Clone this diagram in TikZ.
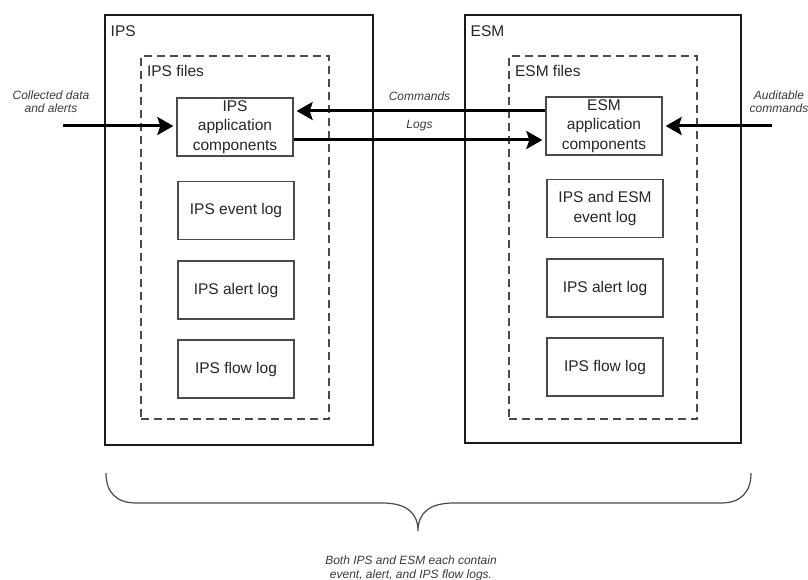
\documentclass[tikz,border=0pt]{standalone}
\usepackage{fontspec}
\setmainfont{Liberation Sans}
\usetikzlibrary{arrows.meta}
\definecolor{ink}{HTML}{262626}
\definecolor{note}{HTML}{3A3A3A}
\definecolor{frame}{HTML}{1A1A1A}
\definecolor{thin}{HTML}{4A4A4A}
\begin{document}
\begin{tikzpicture}[x=1pt,y=-1pt,
  sized/.style 2 args={minimum width=#1pt, minimum height=#2pt, inner sep=0pt},
  systembox/.style={draw=frame, line width=2pt},
  filesbox/.style={draw=thin, line width=1.2pt, dash pattern=on 8pt off 5pt},
  partbox/.style={draw=thin, line width=1.3pt, sized={116}{58}, align=center,
    text=ink, font=\fontsize{15.5}{19.5}\selectfont},
  heading/.style={anchor=west, inner sep=0pt, text=ink, font=\fontsize{15.5}{19}\selectfont},
  note/.style={align=center, inner sep=0pt, text=note, font=\fontsize{12}{13.5}\selectfont\itshape},
  bigarrow/.style={draw=black, line width=3pt,
    -{Stealth[length=16pt, width=18pt, inset=3pt]}, shorten >=3pt},
  bracepath/.style={draw=thin, line width=1.2pt}]
\useasboundingbox (0,0) rectangle (808,580);

% system frames
\node[systembox, sized={268}{430}] (ips) at (239,230) {};
\node[systembox, sized={276}{428}] (esm) at (603,229) {};
\node[heading] (ipstitle) at ([xshift=6.5pt, yshift=-17pt]ips.north west) {IPS};
\node[heading] (esmtitle) at ([xshift=6.5pt, yshift=-17pt]esm.north west) {ESM};

% file areas
\node[filesbox, sized={188}{363}] (ipsfiles) at (235,237.5) {};
\node[filesbox, sized={188}{363}] (esmfiles) at (603,237.5) {};
\node[heading] (ipsfilestitle) at ([xshift=6.5pt, yshift=-16pt]ipsfiles.north west) {IPS files};
\node[heading] (esmfilestitle) at ([xshift=6.5pt, yshift=-16pt]esmfiles.north west) {ESM files};

% IPS contents
\node[partbox] (ipsapp)   at (235,127)   {IPS\\application\\components};
\node[partbox] (ipsevent) at (236,210.5) {IPS event log};
\node[partbox] (ipsalert) at (236,290)   {IPS alert log};
\node[partbox] (ipsflow)  at (236,369)   {IPS flow log};

% ESM contents
\node[partbox] (esmapp)   at (604,126)   {ESM\\application\\components};
\node[partbox] (esmevent) at (605,208.5) {IPS and ESM\\event log};
\node[partbox] (esmalert) at (605,288)   {IPS alert log};
\node[partbox] (esmflow)  at (605,367)   {IPS flow log};

% connectors
\coordinate (inL) at (63,126);
\coordinate (inR) at (772,126);
\coordinate (cmdR) at (esmapp.west |- 0,111);
\coordinate (logL) at (ipsapp.east |- 0,140);

\draw[bigarrow] (inL) -- (inL -| ipsapp.west);
\draw[bigarrow] (inR) -- (inR -| esmapp.east);
\draw[bigarrow] (cmdR) -- (cmdR -| ipsapp.east)
  node[note, midway, yshift=15pt] (cmdlabel) {Commands};
\draw[bigarrow] (logL) -- (logL -| esmapp.west)
  node[note, midway, yshift=14pt] (loglabel) {Logs};

\node[note] (collected) at (51,101.5) {Collected data\\and alerts};
\node[note] (auditable) at (779,101.5) {Auditable\\commands};

% brace under both systems
\draw[bracepath] (106,473) .. controls (106,492) and (116,503) .. (136,503)
  -- (382,503) .. controls (408,503) and (418,514) .. (418,531)
  .. controls (418,514) and (428,503) .. (454,503)
  -- (721,503) .. controls (741,503) and (751,492) .. (751,473);
\node[note, font=\fontsize{12}{14}\selectfont\itshape] (summary) at (411,568)
  {Both IPS and ESM each contain\\event, alert, and IPS flow logs.};
\end{tikzpicture}
\end{document}
